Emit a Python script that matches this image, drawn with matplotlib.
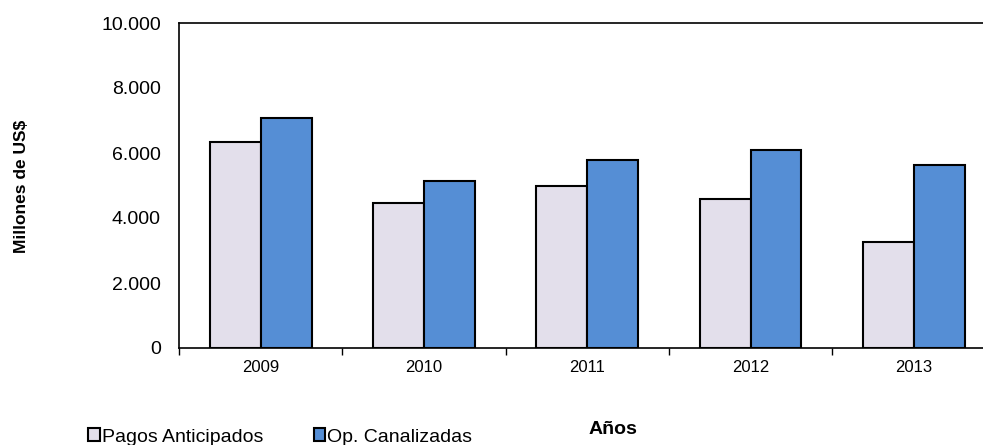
import matplotlib.pyplot as plt
import numpy as np
from matplotlib.ticker import FuncFormatter

# datos (millones de US$)
anios = ['2009', '2010', '2011', '2012', '2013']
pagos_anticipados = [6345, 4452, 4994, 4594, 3262]
op_canalizadas = [7067, 5148, 5785, 6092, 5630]

plt.rcParams['font.family'] = ['Liberation Sans', 'DejaVu Sans']

fig = plt.figure(figsize=(9.83, 4.45), dpi=100)
# el eje se sale un poco por la derecha, como en la imagen original
ax = fig.add_axes([179 / 983, 97 / 445, 816.5 / 983, 325 / 445])

x = np.arange(len(anios))
w = 0.312
ax.bar(x - w / 2, pagos_anticipados, w, color='#E3DFEB', edgecolor='black',
       linewidth=1.5, label='Pagos Anticipados', zorder=3)
ax.bar(x + w / 2, op_canalizadas, w, color='#558ED5', edgecolor='black',
       linewidth=1.5, label='Op. Canalizadas', zorder=3)

ax.set_xlim(-0.5, len(anios) - 0.5)
ax.set_ylim(0, 10000)
ax.set_yticks(range(0, 10001, 2000))
ax.yaxis.set_major_formatter(FuncFormatter(lambda v, p: f'{int(v):,}'.replace(',', '.')))
ax.tick_params(axis='y', length=0, pad=13, labelsize=14)

# marcas en los limites de categoria, etiquetas centradas
ax.set_xticks(np.arange(-0.5, len(anios), 1.0))
ax.set_xticklabels([])
ax.set_xticks(x, minor=True)
ax.set_xticklabels(anios, minor=True, fontsize=12)
ax.tick_params(axis='x', which='major', length=5, width=1, direction='out')
ax.tick_params(axis='x', which='minor', length=0, pad=9)

for s in ax.spines.values():
    s.set_color('black')
    s.set_linewidth(1.2)

fig.text(22 / 983, 1 - 186 / 445, 'Millones de US$', rotation=90, fontsize=12.5,
         fontweight='bold', ha='center', va='center')
fig.text(613 / 983, 1 - 430 / 445, 'Años', fontsize=14, fontweight='bold',
         ha='center', va='center')

fig.legend(loc='center left', bbox_to_anchor=(88 / 983, 1 - 437 / 445), ncol=2,
           frameon=False, fontsize=14, handlelength=0.6, handleheight=0.6,
           handletextpad=0.1, columnspacing=2.6, borderaxespad=0, borderpad=0)

fig.savefig('out.png', dpi=100)
